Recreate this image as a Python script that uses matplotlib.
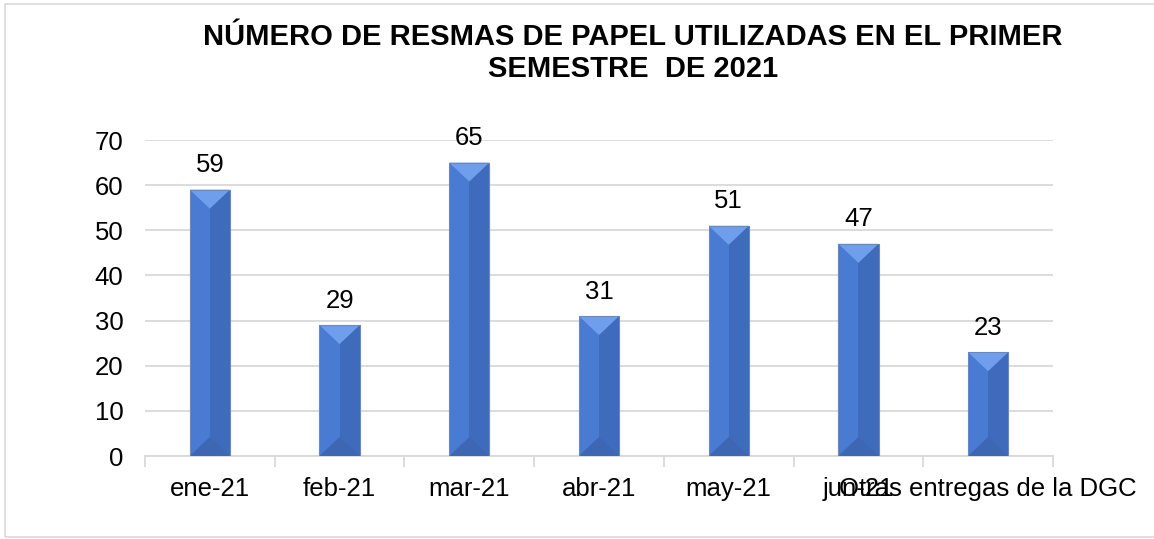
import matplotlib
matplotlib.use("Agg")
import matplotlib.pyplot as plt
from matplotlib.patches import Polygon, Rectangle

categories = ["ene-21", "feb-21", "mar-21", "abr-21", "may-21", "jun-21", "Otras entregas de la DGC"]
values = [59, 29, 65, 31, 51, 47, 23]
yticks = [0, 10, 20, 30, 40, 50, 60, 70]
title = "NÚMERO DE RESMAS DE PAPEL UTILIZADAS EN EL PRIMER\nSEMESTRE  DE 2021"

plt.rcParams['font.family'] = ['Liberation Sans', 'DejaVu Sans']
W, H = 1154, 539
fig = plt.figure(figsize=(W / 100, H / 100), dpi=100)
fig.patch.set_facecolor("white")

# outer border
fig.add_artist(Rectangle((5 / W, 2 / H), 1.2, 533 / H, transform=fig.transFigure,
                         fill=False, edgecolor="#d9d9d9", lw=1.2))

ax = fig.add_axes([145 / W, 1 - 456 / H, 908 / W, 316 / H])
x = list(range(len(categories)))
bw = 0.31
bars = ax.bar(x, values, width=bw, color="#4a7bd3", edgecolor="#5b7fb8", linewidth=0.6, zorder=3)
ax.set_xlim(-0.5, len(categories) - 0.5)
ax.set_ylim(0, 70)
ax.set_yticks(yticks)
ax.yaxis.grid(True, color="#d9d9d9", lw=1.3, zorder=0)
ax.set_axisbelow(True)
for s in ["left", "right", "top"]:
    ax.spines[s].set_visible(False)
ax.spines["bottom"].set_color("#d9d9d9")
ax.spines["bottom"].set_linewidth(1.3)
ax.tick_params(axis="y", length=0, pad=15.5, labelsize=18.5)
ax.set_xticks(x)
ax.set_xticklabels(categories, fontsize=18.5)
ax.tick_params(axis="x", length=0, pad=15)
ax.set_xticks([i - 0.5 for i in range(len(categories) + 1)], minor=True)
ax.tick_params(axis="x", which="minor", length=8, color="#d9d9d9", width=1.3)

# bevel shading
fig.canvas.draw()
inv = ax.transData.inverted()
_, y_a = inv.transform((0, 0))
_, y_b = inv.transform((0, 19))
depth = y_b - y_a
for b in bars:
    x0 = b.get_x(); w = b.get_width(); h = b.get_height(); xc = x0 + w / 2
    ax.add_patch(Polygon([(xc, 0), (x0 + w, 0), (x0 + w, h), (xc, h)], closed=True,
                         facecolor="#3f6bbd", edgecolor="none", zorder=3.5))
    ax.add_patch(Polygon([(x0, h), (x0 + w, h), (xc, h - depth)], closed=True,
                         facecolor="#6f9fec", edgecolor="none", zorder=3.6))
    ax.add_patch(Polygon([(x0, 0), (x0 + w, 0), (xc, depth)], closed=True,
                         facecolor="#3d66b3", edgecolor="none", zorder=3.6))
    ax.add_patch(Rectangle((x0, 0), w, h, fill=False, edgecolor="#6a88bb", lw=0.8, zorder=3.7))
    ax.annotate(str(h), (xc, h), xytext=(0, 9), textcoords="offset points",
                ha="center", va="bottom", fontsize=18.5, color="black")

fig.text(633 / W, 1 - 53 / H, title, ha="center", va="center", fontsize=21,
         fontweight="bold", multialignment="center", linespacing=1.18)

fig.savefig("out.png", dpi=100, facecolor="white")
